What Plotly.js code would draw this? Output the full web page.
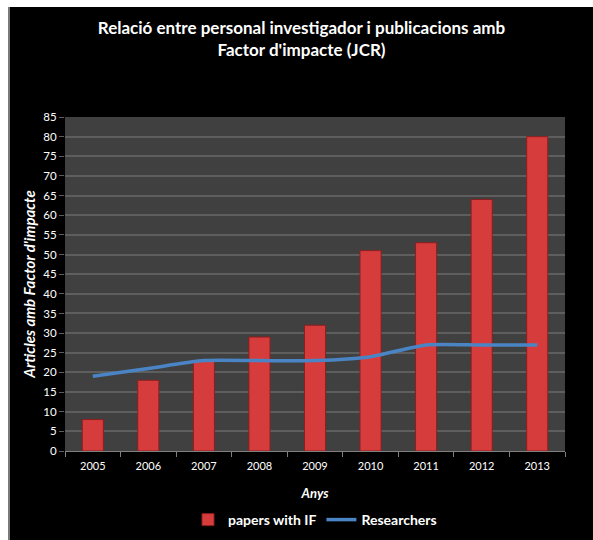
<!DOCTYPE html>
<html>
<head>
<meta charset="utf-8">
<script src="https://cdn.plot.ly/plotly-3.0.1.min.js"></script>
<style>
html, body { margin: 0; padding: 0; background: #ffffff; width: 593px; height: 540px; overflow: hidden; }
#wrap { position: absolute; left: 8px; top: 7px; width: 585px; height: 533px; background: #000; border-left: 2px solid #7a7a7a; }
#chart { position: absolute; left: 0; top: 0; width: 583px; height: 533px; }
</style>
</head>
<body>
<div id="wrap"><div id="chart"></div></div>
<script>
const years = ["2005", "2006", "2007", "2008", "2009", "2010", "2011", "2012", "2013"];
const papersWithIF = [8, 18, 23, 29, 32, 51, 53, 64, 80];
const researchers = [19, 21, 23, 23, 23, 24, 27, 27, 27];
const yTicks = [0, 5, 10, 15, 20, 25, 30, 35, 40, 45, 50, 55, 60, 65, 70, 75, 80, 85];

const fontFam = "Lato, 'Open Sans', sans-serif";

const data = [
  {
    type: "bar",
    name: "papers with IF",
    x: years,
    y: papersWithIF,
    marker: { color: "#d63c3c", line: { color: "#8e1e1e", width: 1 } },
    hoverinfo: "x+y"
  },
  {
    type: "scatter",
    mode: "lines",
    name: "Researchers",
    x: years,
    y: researchers,
    line: { color: "#4a84c4", width: 3.5, shape: "spline", smoothing: 0.6 }
  }
];

const layout = {
  width: 583,
  height: 533,
  paper_bgcolor: "#000000",
  plot_bgcolor: "#404040",
  margin: { l: 55, r: 28, t: 110, b: 89 },
  bargap: 0.62,
  showlegend: true,
  font: { family: fontFam, color: "#ffffff", size: 11 },
  title: {
    text: "<b>Relació entre personal investigador i publicacions amb<br>Factor d'impacte (JCR)</b>",
    font: { family: fontFam, size: 17, color: "#ffffff" },
    x: 0.5, xref: "container", xanchor: "center",
    y: 1 - 27 / 533, yref: "container", yanchor: "middle"
  },
  xaxis: {
    type: "category",
    tickvals: years,
    ticktext: years,
    showgrid: false,
    showline: true,
    linecolor: "#7f7f7f",
    linewidth: 1,
    ticks: "outside",
    tickcolor: "#7f7f7f",
    ticklen: 5,
    tickson: "boundaries",
    ticklabelstandoff: 5,
    tickfont: { family: fontFam, size: 11, color: "#ffffff" },
    title: {
      text: "Anys",
      font: { family: fontFam, size: 13, color: "#ffffff", weight: "bold", style: "italic" },
      standoff: 17
    },
    fixedrange: true
  },
  yaxis: {
    range: [0, 85],
    tickvals: yTicks,
    ticktext: yTicks.map(String),
    showgrid: true,
    gridcolor: "#5e5e5e",
    gridwidth: 2,
    zeroline: false,
    showline: false,
    ticks: "outside",
    tickcolor: "#5e5e5e",
    ticklen: 5,
    tickfont: { family: fontFam, size: 11.5, color: "#ffffff" },
    title: {
      text: "Articles amb Factor d'impacte",
      font: { family: fontFam, size: 15, color: "#ffffff", weight: "bold", style: "italic" },
      standoff: 4
    },
    fixedrange: true
  },
  legend: {
    orientation: "h",
    x: 0.5, xanchor: "center",
    y: 1 - 513 / 533, yref: "container", yanchor: "middle",
    font: { family: fontFam, size: 14, color: "#ffffff", weight: "bold" },
    bgcolor: "rgba(0,0,0,0)",
    itemwidth: 30
  }
};

Plotly.newPlot("chart", data, layout, { displayModeBar: false, staticPlot: true });
</script>
</body>
</html>
